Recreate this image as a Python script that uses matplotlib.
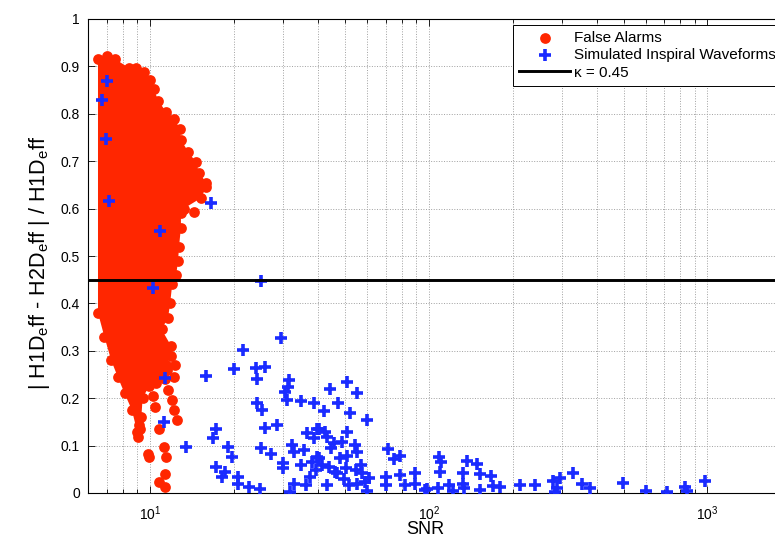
import numpy as np
import matplotlib
matplotlib.use("Agg")
import matplotlib.pyplot as plt
from matplotlib.ticker import FixedLocator, LogLocator, NullFormatter

plt.rcParams["font.family"] = ["Liberation Sans", "DejaVu Sans"]
plt.rcParams["mathtext.default"] = "regular"

# ── False alarms: outermost points of the dense cloud (clockwise) ──
blob_snr = [6.5, 7.0, 7.5, 8.4, 8.9, 9.5, 10.0, 10.3, 10.7, 11.4, 12.2, 12.8,
            12.9, 13.7, 14.6, 15.0, 15.9, 15.9, 15.2, 13.2, 12.9, 12.9, 12.7,
            12.6, 12.4, 12.0, 11.8, 11.6, 11.0, 11.9, 11.9, 11.4, 11.3, 10.5,
            9.9, 9.4, 9.3, 9.2, 9.0, 8.6, 8.1, 7.65, 7.25, 6.85, 6.5]
blob_val = [0.915, 0.922, 0.915, 0.897, 0.897, 0.888, 0.872, 0.852, 0.828,
            0.804, 0.790, 0.768, 0.745, 0.720, 0.698, 0.675, 0.655, 0.645,
            0.622, 0.600, 0.590, 0.560, 0.520, 0.490, 0.460, 0.440, 0.400,
            0.370, 0.345, 0.310, 0.290, 0.270, 0.240, 0.232, 0.225, 0.200,
            0.160, 0.135, 0.128, 0.175, 0.210, 0.245, 0.280, 0.330, 0.380]

# isolated false alarms outside the cloud
fa_snr = [14.4, 10.2, 10.42, 10.77, 11.22, 11.38, 11.29, 10.77, 11.32, 9.8,
          9.92, 12.2, 11.6, 11.95, 12.2, 12.5, 9.13, 9.07, 12.3, 11.5]
fa_val = [0.593, 0.205, 0.181, 0.136, 0.098, 0.077, 0.040, 0.024, 0.012,
          0.082, 0.076, 0.245, 0.217, 0.196, 0.175, 0.155, 0.143, 0.119,
          0.270, 0.260]

# ── Simulated inspiral waveforms ──
inj_snr = [6.98, 6.71, 6.94, 7.10, 10.83, 16.5, 10.2, 11.29, 15.93, 11.22,
           13.5, 24.9, 29.4, 21.6, 20.0, 23.9, 25.8, 24.1, 31.5, 31.2, 30.6,
           30.9, 34.7, 38.7, 24.2, 25.3, 25.8, 28.6, 17.3, 16.8, 19.0, 19.7,
           25.1, 27.1, 17.2, 18.5, 18.1, 20.7, 20.6, 22.6, 24.8, 30.1, 30.1,
           32.8, 31.8, 32.4, 32.8, 34.7, 35.6, 36.4, 37.6, 36.6, 39.6, 38.7,
           39.8, 39.3, 50.7, 44.1, 55.2, 47.2, 42.0, 52.1, 60.1, 40.4, 42.3,
           43.3, 50.7, 45.7, 48.9, 54.3, 55.4, 48.2, 51.0, 40.4, 71.6, 75.0,
           79.0, 43.8, 50.3, 54.6, 46.9, 57.7, 60.9, 59.0, 43.3, 51.7, 55.4,
           60.1, 70.0, 70.0, 79.0, 82.3, 89.0, 89.0, 96.9, 108.6, 110.6,
           110.1, 107.6, 98.2, 118.3, 122.1, 137.6, 149.2, 132.5, 132.5,
           133.8, 153.3, 166.7, 152.6, 169.8, 180.6, 212.6, 240.1, 278, 295,
           289, 284, 330.6, 355.6, 378.6, 497.6, 603.7, 718.6, 831.4, 843,
           981, 38.0, 41.5, 46.0, 49.5, 44.5, 57.0]
inj_val = [0.870, 0.829, 0.747, 0.615, 0.553, 0.611, 0.432, 0.243, 0.247,
           0.149, 0.096, 0.448, 0.328, 0.302, 0.262, 0.263, 0.266, 0.240,
           0.238, 0.224, 0.214, 0.196, 0.194, 0.189, 0.189, 0.175, 0.138,
           0.143, 0.135, 0.115, 0.098, 0.077, 0.094, 0.082, 0.055, 0.045,
           0.034, 0.034, 0.020, 0.013, 0.008, 0.064, 0.052, 0.020, 0.003,
           0.101, 0.087, 0.059, 0.091, 0.017, 0.034, 0.126, 0.135, 0.115,
           0.077, 0.049, 0.235, 0.219, 0.212, 0.189, 0.172, 0.169, 0.154,
           0.134, 0.129, 0.119, 0.129, 0.106, 0.108, 0.101, 0.087, 0.074,
           0.078, 0.073, 0.092, 0.071, 0.078, 0.055, 0.053, 0.049, 0.042,
           0.042, 0.031, 0.024, 0.017, 0.017, 0.020, 0.005, 0.034, 0.017,
           0.038, 0.017, 0.043, 0.020, 0.006, 0.077, 0.066, 0.045, 0.011,
           0.008, 0.017, 0.005, 0.068, 0.062, 0.042, 0.018, 0.010, 0.040,
           0.036, 0.006, 0.015, 0.012, 0.017, 0.017, 0.026, 0.031, 0.010,
           0.003, 0.043, 0.020, 0.010, 0.022, 0.005, 0.003, 0.013, 0.005,
           0.026, 0.066, 0.060, 0.045, 0.030, 0.095, 0.060]

kappa = 0.45
yticks = [0, 0.1, 0.2, 0.3, 0.4, 0.5, 0.6, 0.7, 0.8, 0.9, 1]
ytick_labels = ["0", "0.1", "0.2", "0.3", "0.4", "0.5", "0.6", "0.7", "0.8", "0.9", "1"]

RED = "#FF2600"
BLUE = "#1A2BFF"

fig = plt.figure(figsize=(7.75, 5.38), dpi=100)
# axes runs past the right edge of the picture, as in the reference
ax = fig.add_axes([88.3 / 775, 45 / 538, 703 / 775, 474 / 538])

ax.fill(blob_snr, blob_val, color=RED, lw=0, zorder=2)
ax.scatter(blob_snr, blob_val, s=60, c=RED, marker="o", lw=0, zorder=2)
ax.scatter(fa_snr, fa_val, s=60, c=RED, marker="o", lw=0, zorder=2,
           label="False Alarms")
ax.scatter(inj_snr, inj_val, s=68, c=BLUE, marker="+", linewidths=2.6,
           zorder=3, label="Simulated Inspiral Waveforms")
ax.axhline(kappa, color="black", lw=2.1, zorder=4, label="κ = 0.45")

ax.set_xscale("log")
ax.set_xlim(6, 2000)
ax.set_ylim(0, 1)
ax.yaxis.set_major_locator(FixedLocator(yticks))
ax.set_yticklabels(ytick_labels)
ax.xaxis.set_minor_locator(LogLocator(base=10, subs=np.arange(2, 10)))
ax.xaxis.set_minor_formatter(NullFormatter())

ax.grid(True, which="major", ls=":", color="#A0A0A0", lw=0.7, zorder=0)
ax.grid(True, which="minor", axis="x", ls=":", color="#A0A0A0", lw=0.7, zorder=0)
ax.set_axisbelow(True)

ax.tick_params(which="both", direction="in", top=True, right=True,
               labelsize=10, width=0.6)
ax.tick_params(which="major", length=5)
ax.tick_params(which="minor", length=3)
ax.tick_params(axis="x", pad=8)
ax.tick_params(axis="y", pad=6)
for s in ax.spines.values():
    s.set_linewidth(0.8)

ax.set_xlabel("SNR", fontsize=13)
ax.xaxis.set_label_coords(0.48, -0.06)
ax.set_ylabel(r"| H1D$_{e}$ff - H2D$_{e}$ff | / H1D$_{e}$ff", fontsize=15.5)
ax.yaxis.set_label_coords(-0.052, 0.485)

leg = ax.legend(loc="upper left", bbox_to_anchor=(513 / 775, 1 - 25 / 538),
                bbox_transform=fig.transFigure, borderaxespad=0,
                fontsize=11, frameon=True, fancybox=False, edgecolor="black",
                framealpha=1, handlelength=3.3, handletextpad=0.3,
                labelspacing=0.2, borderpad=0.42, scatterpoints=1)
leg.get_frame().set_linewidth(0.7)

fig.savefig("out.png", dpi=100)
